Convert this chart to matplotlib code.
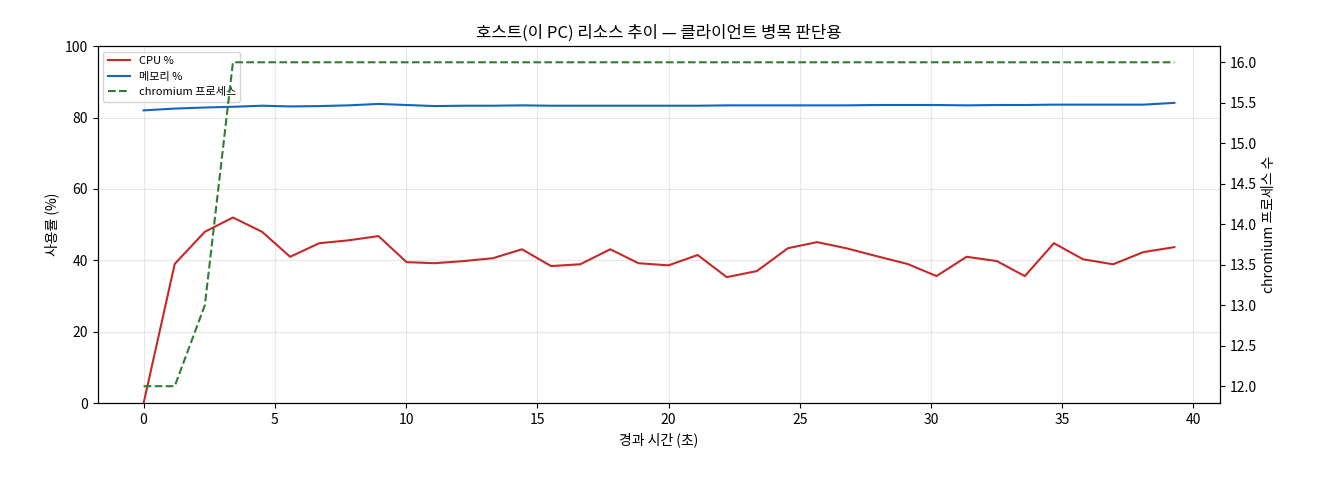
import numpy as np
import matplotlib
matplotlib.use('Agg')
import matplotlib.pyplot as plt

plt.rcParams['font.family'] = ['Noto Sans CJK KR', 'DejaVu Sans']
plt.rcParams['axes.unicode_minus'] = False

px = [143, 174, 204, 232, 261, 289, 318, 347, 377, 405, 433, 462, 491, 520, 549, 578, 608, 636,
      666, 695, 724, 754, 785, 814, 843, 873, 904, 933, 963, 993, 1021, 1050, 1079, 1109, 1139, 1170]
t = [(p - 143) / 26.15 for p in px]
cpu = [0, 39, 48, 52, 48, 41, 44.8, 45.6, 46.8, 39.5, 39.2, 39.8, 40.6, 43.1, 38.4, 38.9, 43.1, 39.2,
       38.6, 41.5, 35.3, 37, 43.4, 45.1, 43.4, 41.2, 39, 35.6, 41, 39.8, 35.6, 44.8, 40.3, 38.9, 42.3, 43.7]
mem = [82.0, 82.5, 82.8, 83.0, 83.3, 83.1, 83.2, 83.4, 83.8, 83.5, 83.2, 83.3, 83.3, 83.4, 83.3, 83.3, 83.3, 83.3,
       83.3, 83.3, 83.4, 83.4, 83.4, 83.4, 83.4, 83.5, 83.5, 83.5, 83.4, 83.5, 83.5, 83.6, 83.6, 83.6, 83.6, 84.1]
chrom = [12, 12, 13] + [16] * 33

fig, ax = plt.subplots(figsize=(13.2, 4.8), dpi=100)
l1, = ax.plot(t, cpu, color='#c62828', lw=1.5, label='CPU %')
l2, = ax.plot(t, mem, color='#1565c0', lw=1.5, label='메모리 %')
ax.set_ylim(0, 100)
ax.set_xlim(-1.75, 41)
ax.set_xlabel('경과 시간 (초)')
ax.set_ylabel('사용률 (%)')
ax.grid(True, alpha=0.3)
ax.set_title('호스트(이 PC) 리소스 추이 — 클라이언트 병목 판단용')

ax2 = ax.twinx()
l3, = ax2.plot(t, chrom, color='#2e7d32', lw=1.5, ls='--', label='chromium 프로세스')
ax2.set_ylim(11.79, 16.2)
ax2.set_ylabel('chromium 프로세스 수')

ax.legend(handles=[l1, l2, l3], loc='upper left', fontsize=8)
fig.subplots_adjust(left=0.074, right=0.924, top=0.904, bottom=0.16)
fig.savefig('out.png')
